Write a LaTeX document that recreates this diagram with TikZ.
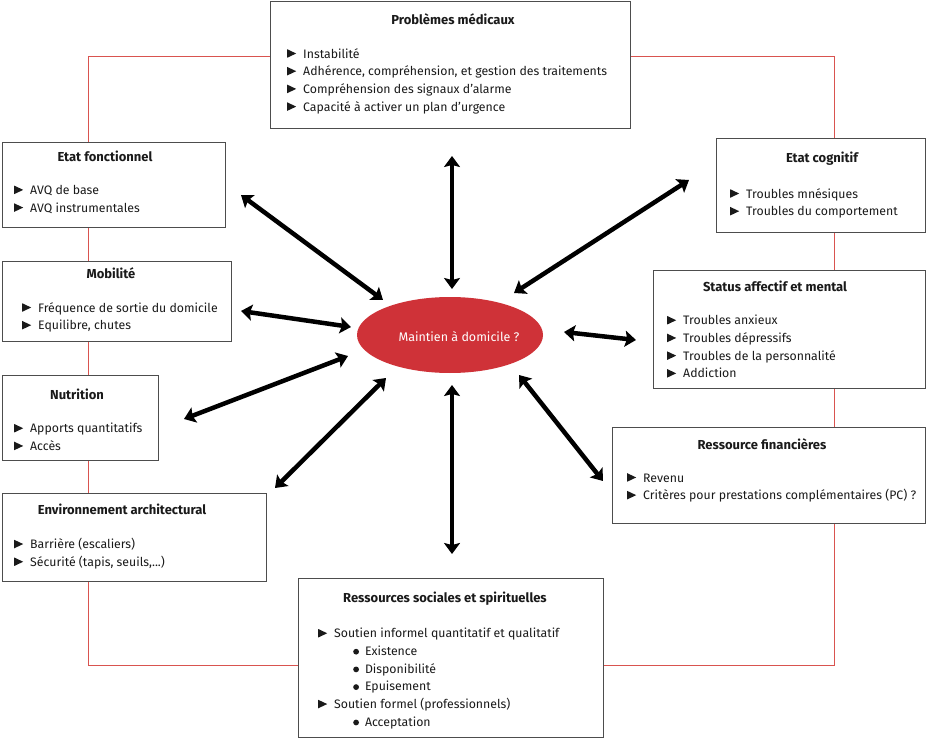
\documentclass[tikz,border=0pt]{standalone}
\usepackage{fontspec}
\setmainfont{Fira Sans}
\usetikzlibrary{arrows.meta,shapes.geometric}
\definecolor{redline}{HTML}{D9534F}
\definecolor{ellred}{HTML}{CF3238}
\definecolor{boxgray}{HTML}{4D4D4D}
\definecolor{txt}{HTML}{1A1A1A}
\newcommand\itm{\tikz[baseline=0pt]\fill[txt] (0pt,0.3pt)--(0pt,8.8pt)--(9pt,4.55pt)--cycle;\hspace{7pt}}
\newcommand\sitm{\hspace*{35pt}\tikz[baseline=0pt]\fill[txt] (2.9pt,3.8pt) circle (2.9pt);\hspace{6pt}}
\tikzset{
  box/.style={draw=boxgray, line width=1.2pt, fill=white, inner sep=0pt, anchor=north west},
  ttl/.style={font=\fontsize{13}{15}\selectfont\bfseries, text=txt, inner sep=0pt},
  lst/.style={font=\fontsize{12.3}{17.7}\selectfont, text=txt, inner sep=0pt, align=left, anchor=north west},
  dbl/.style={line width=4.5pt, {Stealth[length=11pt,width=16pt,inset=2pt]}-{Stealth[length=11pt,width=16pt,inset=2pt]}},
  frame/.style={draw=redline, line width=1pt}
}
\begin{document}
\begin{tikzpicture}[x=1pt,y=-1pt]
\useasboundingbox (0,0) rectangle (926,738);
% red frame
\draw[frame] (88,57) rectangle (834,665);
% boxes
\node[box, minimum width=360pt, minimum height=127pt] (pm) at (270,1) {};
\node[box, minimum width=223pt, minimum height=85pt] (ef) at (2,142) {};
\node[box, minimum width=229pt, minimum height=80pt] (mob) at (2,261) {};
\node[box, minimum width=156pt, minimum height=85pt] (nut) at (2,375) {};
\node[box, minimum width=264pt, minimum height=88pt] (env) at (2,493) {};
\node[box, minimum width=209pt, minimum height=94pt] (ec) at (716,138) {};
\node[box, minimum width=272pt, minimum height=118pt] (sam) at (653,270) {};
\node[box, minimum width=313pt, minimum height=96pt] (rf) at (612,427) {};
\node[box, minimum width=305pt, minimum height=159pt] (rss) at (298,578) {};
% titles
\node[ttl] (pm-t) at (453,19) {Problèmes médicaux};
\node[ttl] (ef-t) at (105,156) {Etat fonctionnel};
\node[ttl] (mob-t) at (111,273) {Mobilité};
\node[ttl] (nut-t) at (77,394) {Nutrition};
\node[ttl] (env-t) at (122,509) {Environnement architectural};
\node[ttl] (ec-t) at (822,159) {Etat cognitif};
\node[ttl] (sam-t) at (775,286) {Status affectif et mental};
\node[ttl] (rf-t) at (762,444) {Ressource financières};
\node[ttl] (rss-t) at (445,599) {Ressources sociales et spirituelles};
% lists
\node[lst] (pm-l) at (287,48) {\itm Instabilité\\\itm Adhérence, compréhension, et gestion des traitements\\\itm Compréhension des signaux d’alarme\\\itm Capacité à activer un plan d’urgence};
\node[lst] (ef-l) at (14,185) {\itm AVQ de base\\\itm AVQ instrumentales};
\node[lst] (mob-l) at (22,302) {\itm Fréquence de sortie du domicile\\\itm Equilibre, chutes};
\node[lst] (nut-l) at (14,423) {\itm Apports quantitatifs\\\itm Accès};
\node[lst] (env-l) at (14,538) {\itm Barrière (escaliers)\\\itm Sécurité (tapis, seuils,...)};
\node[lst] (ec-l) at (730,188) {\itm Troubles mnésiques\\\itm Troubles du comportement};
\node[lst] (sam-l) at (667,315) {\itm Troubles anxieux\\\itm Troubles dépressifs\\\itm Troubles de la personnalité\\\itm Addiction};
\node[lst] (rf-l) at (627,473) {\itm Revenu\\\itm Critères pour prestations complémentaires (PC) ?};
\node[lst] (rss-l) at (318,628) {\itm Soutien informel quantitatif et qualitatif\\\sitm Existence\\\sitm Disponibilité\\\sitm Epuisement\\\itm Soutien formel (professionnels)\\\sitm Acceptation};
% centre
\node[ellipse, fill=ellred, minimum width=186pt, minimum height=76pt, inner sep=0pt] (ctr) at (450,335) {};
\node[font=\fontsize{12.5}{15}\selectfont, text=white, inner sep=0pt] (ctr-t) at (459,337) {Maintien à domicile ?};
% arrow end points
\coordinate (a1s) at (452,156); \coordinate (a1e) at (452,289);
\coordinate (a2s) at (452,385); \coordinate (a2e) at (452,554);
\coordinate (a3s) at (241,195); \coordinate (a3e) at (383,300);
\coordinate (a4s) at (241,311); \coordinate (a4e) at (351,327);
\coordinate (a5s) at (184,419); \coordinate (a5e) at (348,356);
\coordinate (a6s) at (275,488); \coordinate (a6e) at (386,378);
\coordinate (a7s) at (689,180); \coordinate (a7e) at (514,293);
\coordinate (a8s) at (564,332); \coordinate (a8e) at (636,340);
\coordinate (a9s) at (519,375); \coordinate (a9e) at (603,481);
\draw[dbl] (a1s) -- (a1e);
\draw[dbl] (a2s) -- (a2e);
\draw[dbl] (a3s) -- (a3e);
\draw[dbl] (a4s) -- (a4e);
\draw[dbl] (a5s) -- (a5e);
\draw[dbl] (a6s) -- (a6e);
\draw[dbl] (a7s) -- (a7e);
\draw[dbl] (a8s) -- (a8e);
\draw[dbl] (a9s) -- (a9e);
\end{tikzpicture}
\end{document}
